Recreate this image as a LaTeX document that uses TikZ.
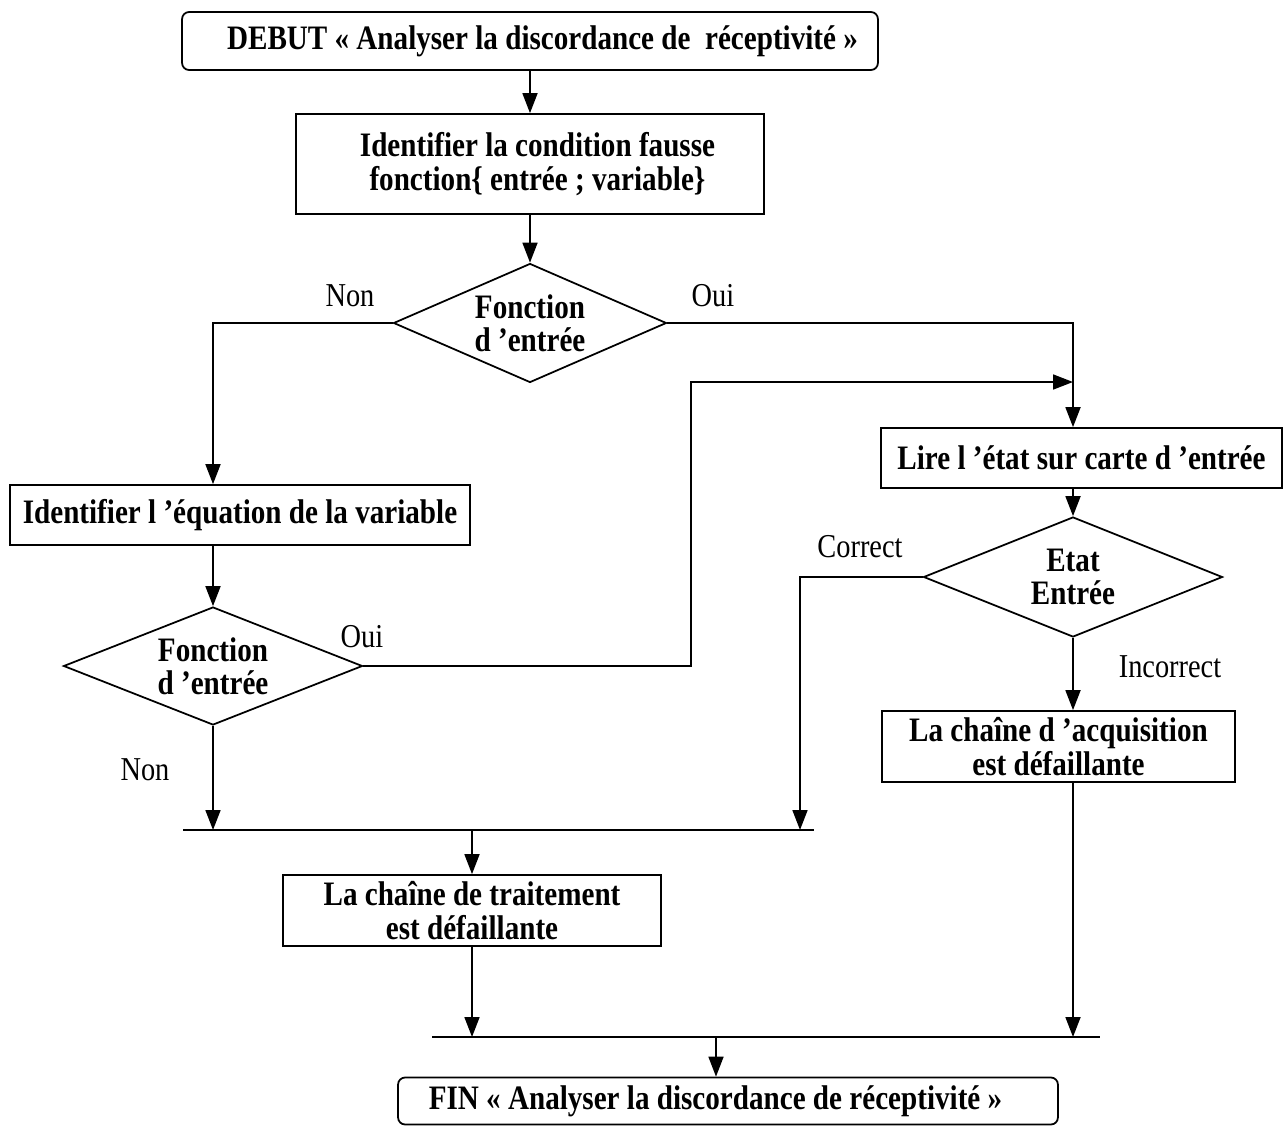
\documentclass[tikz,border=0pt]{standalone}
\usepackage{fontspec}
\setmainfont{Liberation Serif}[FakeStretch=0.85]
\usetikzlibrary{arrows.meta,positioning,shapes.geometric}

\begin{document}
\begin{tikzpicture}[x=0.02cm, y=-0.02cm,
  box/.style={draw, line width=1pt, minimum height=1.2cm, align=center, inner sep=2pt, font=\bfseries\fontsize{19.5}{19}\selectfont},
  term/.style={box, rounded corners=4pt},
  test/.style={draw, diamond, line width=1pt, aspect=2.5, inner sep=0pt, align=center, font=\bfseries\fontsize{19.5}{19}\selectfont},
  lbl/.style={font=\fontsize{19}{19}\selectfont},
  arrow/.style={-{Triangle[length=0.4cm,width=0.3cm]}, line width=1pt}
]
\useasboundingbox (0,0) rectangle (1285,1126);

% blocs
\node[term, minimum width=13.92cm, minimum height=1.16cm] (debut) at (530,41) {\hspace*{0.5cm}DEBUT « Analyser la discordance de~ réceptivité »};
\node[box, minimum width=9.36cm, minimum height=2cm] (ident) at (530,164) {\hspace*{0.3cm}Identifier la condition fausse\\\hspace*{0.3cm}fonction\{ entrée ; variable\}};
\node[test, minimum width=5.46cm, minimum height=2.38cm] (test1) at (530,323) {Fonction\\d ’entrée};
\node[box, minimum width=9.2cm] (identvar) at (240,515) {Identifier l ’équation de la variable};
\node[test, minimum width=5.98cm, minimum height=2.36cm] (test2) at (213,666) {Fonction\\d ’entrée};
\node[box, minimum width=8.02cm] (lire) at (1081.5,458) {Lire l ’état sur carte d ’entrée};
\node[test, minimum width=5.98cm, minimum height=2.4cm] (etat) at (1073,577) {Etat\\Entrée};
\node[box, minimum width=7.06cm, minimum height=1.42cm] (acq) at (1058.5,746.5) {La chaîne d ’acquisition\\est défaillante};
\node[box, minimum width=7.56cm, minimum height=1.42cm] (trait) at (472,910.5) {La chaîne de traitement\\est défaillante};
\node[term, minimum width=13.2cm, minimum height=0.94cm] (fin) at (728,1101) {FIN « Analyser la discordance de réceptivité~»\hspace*{0.5cm}};

% reponses
\node[lbl] (non1) at (350,296) {Non};
\node[lbl] (oui1) at (713,296) {Oui};
\node[lbl] (oui2) at (362,637) {Oui};
\node[lbl] (non2) at (145,770) {Non};
\node[lbl] (correct) at (860,547) {Correct};
\node[lbl] (incorrect) at (1170,667) {Incorrect};

% points de jonction
\coordinate (coude) at (691,382);
\coordinate (bus1g) at (183,830);
\coordinate (bus1d) at (814,830);
\coordinate (bus1c) at (800,830);
\coordinate (bus2g) at (432,1037);
\coordinate (bus2d) at (1100,1037);
\coordinate (bus2m) at (716,1037);

% liaisons
\draw[arrow] (debut) -- (ident);
\draw[arrow] (ident) -- (test1);
\draw[arrow] (test1.west) -| (test2.north |- identvar.north);
\draw[arrow] (test1.east) -| (etat.north |- lire.north);
\draw[arrow] (identvar.south -| test2.north) -- (test2.north);
\draw[arrow] (test2.east) -| (coude) -- (coude -| etat.north);
\draw[arrow] (lire.south -| etat.north) -- (etat.north);
\draw[arrow] (etat.south) -- (acq.north -| etat.south);
\draw[arrow] (etat.west) -| (bus1c);
\draw[arrow] (test2.south) -- (test2.south |- bus1g);
\draw[line width=1pt] (bus1g) -- (bus1d);
\draw[arrow] (bus1g -| trait.north) -- (trait.north);
\draw[arrow] (trait.south) -- (trait.south |- bus2g);
\draw[arrow] (acq.south -| etat.south) -- (etat.south |- bus2g);
\draw[line width=1pt] (bus2g) -- (bus2d);
\draw[arrow] (bus2m) -- (bus2m |- fin.north);
\end{tikzpicture}
\end{document}
